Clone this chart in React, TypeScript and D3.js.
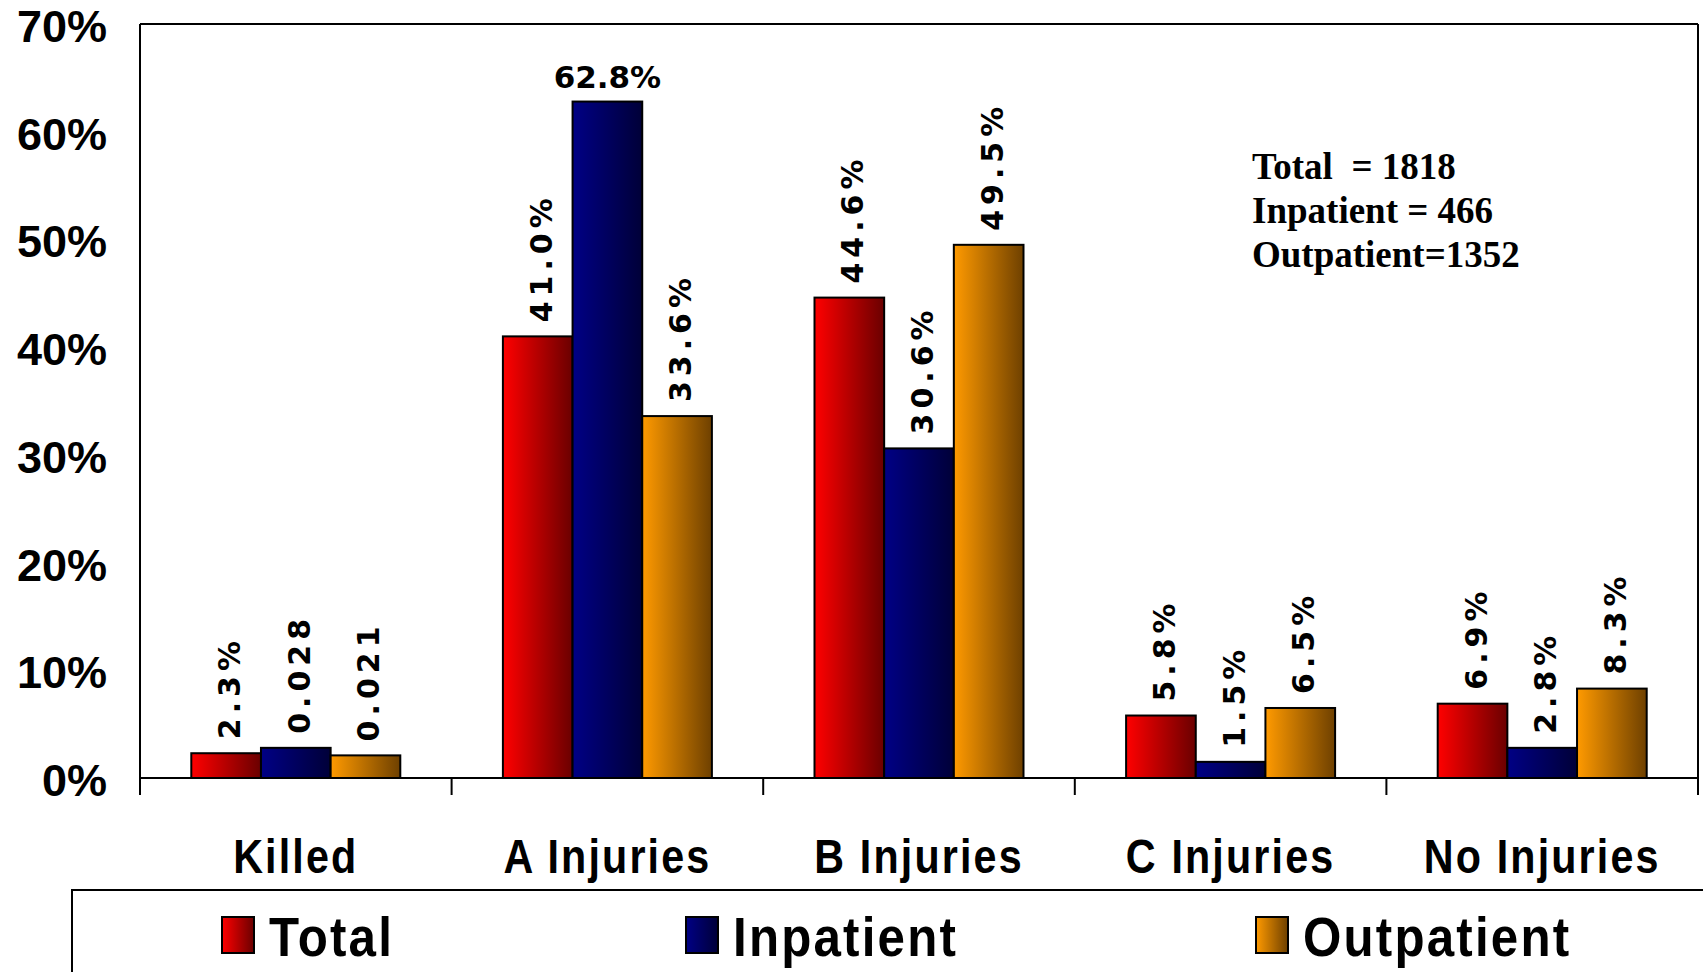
import React, { useEffect } from "react";
import * as d3 from "d3";

const categories = ["Killed", "A Injuries", "B Injuries", "C Injuries", "No Injuries"];
const seriesNames = ["Total", "Inpatient", "Outpatient"];
const totalValues = [2.3, 41.0, 44.6, 5.8, 6.9];
const inpatientValues = [2.8, 62.8, 30.6, 1.5, 2.8];
const outpatientValues = [2.1, 33.6, 49.5, 6.5, 8.3];
const totalLabels = ["2.3%", "41.0%", "44.6%", "5.8%", "6.9%"];
const inpatientLabels = ["0.028", "62.8%", "30.6%", "1.5%", "2.8%"];
const outpatientLabels = ["0.021", "33.6%", "49.5%", "6.5%", "8.3%"];
const yTicks = [0, 10, 20, 30, 40, 50, 60, 70];
const noteLines = ["Total  = 1818", "Inpatient = 466", "Outpatient=1352"];

const seriesValues = [totalValues, inpatientValues, outpatientValues];
const seriesLabels = [totalLabels, inpatientLabels, outpatientLabels];
const gradStops = [
  ["#ff0000", "#6a0000"],
  ["#000085", "#000038"],
  ["#ff9a00", "#6e4000"],
];

const W = 1703;
const H = 972;
const left = 140;
const right = 1698;
const top = 24;
const base = 778;

export default function App() {
  useEffect(() => {
    document.body.style.margin = "0";
    document.body.style.overflow = "hidden";
  }, []);

  const x0 = d3.scaleBand<string>().domain(categories).range([left, right]).paddingInner(0).paddingOuter(0);
  const bandInner = 209;
  const x1 = d3.scaleBand<string>().domain(seriesNames).range([0, bandInner]).padding(0);
  const y = d3.scaleLinear().domain([0, 70]).range([base, top]);
  const off = (x0.bandwidth() - bandInner) / 2;

  const labelFont = "'DejaVu Sans', Verdana, sans-serif";
  const catFont = "'Liberation Sans', Arial, sans-serif";

  return (
    <svg width={W} height={H} style={{ position: "absolute", left: 0, top: 0, display: "block", background: "#fff" }}>
      <defs>
        {gradStops.map((g, i) => (
          <linearGradient id={`g${i}`} key={i} x1="0" y1="0" x2="1" y2="0">
            <stop offset="0" stopColor={g[0]} />
            <stop offset="1" stopColor={g[1]} />
          </linearGradient>
        ))}
      </defs>

      {/* frame */}
      <line x1={left} x2={right} y1={top} y2={top} stroke="#000" strokeWidth={2} />
      <line x1={left} x2={left} y1={top} y2={base + 17} stroke="#000" strokeWidth={2} />
      <line x1={right} x2={right} y1={top} y2={base + 17} stroke="#000" strokeWidth={2} />

      {/* y tick labels */}
      {yTicks.map((t) => (
        <text
          key={t}
          x={107}
          y={y(t) + 18}
          textAnchor="end"
          fontFamily="'Liberation Sans', Arial, sans-serif"
          fontWeight="bold"
          fontSize={45}
          fill="#000"
        >
          {`${t}%`}
        </text>
      ))}

      {/* bars */}
      {categories.map((c, ci) =>
        seriesNames.map((s, si) => {
          const v = seriesValues[si][ci];
          const bx = (x0(c) as number) + off + (x1(s) as number);
          const bw = x1.bandwidth();
          const by = y(v);
          return (
            <rect
              key={`${c}-${s}`}
              x={bx}
              y={by}
              width={bw}
              height={base - by}
              fill={`url(#g${si})`}
              stroke="#000"
              strokeWidth={2}
            />
          );
        })
      )}

      {/* x axis & separators */}
      <line x1={left} x2={right} y1={base} y2={base} stroke="#000" strokeWidth={2} />
      {categories.map((c, ci) =>
        ci > 0 ? (
          <line
            key={`sep${c}`}
            x1={x0(c) as number}
            x2={x0(c) as number}
            y1={base}
            y2={base + 17}
            stroke="#000"
            strokeWidth={2}
          />
        ) : null
      )}

      {/* value labels */}
      {categories.map((c, ci) =>
        seriesNames.map((s, si) => {
          const v = seriesValues[si][ci];
          const lbl = seriesLabels[si][ci];
          const cx = (x0(c) as number) + off + (x1(s) as number) + x1.bandwidth() / 2;
          const by = y(v);
          const estLen = lbl.length * 25;
          if (by - 14 - estLen < top) {
            return (
              <text
                key={`l${c}${s}`}
                x={cx}
                y={by - 14}
                textAnchor="middle"
                fontFamily={labelFont}
                fontWeight="bold"
                fontSize={31}
                fill="#000"
              >
                {lbl}
              </text>
            );
          }
          return (
            <text
              key={`l${c}${s}`}
              transform={`translate(${cx + 14},${by - 14}) rotate(-90)`}
              textAnchor="start"
              fontFamily={labelFont}
              fontWeight="bold"
              fontSize={30}
              letterSpacing={5}
              fill="#000"
            >
              {lbl}
            </text>
          );
        })
      )}

      {/* category labels */}
      {categories.map((c) => (
        <text
          key={`c${c}`}
          transform={`translate(${(x0(c) as number) + x0.bandwidth() / 2},873) scale(0.86,1)`}
          textAnchor="middle"
          fontFamily={catFont}
          fontWeight="bold"
          fontSize={48}
          letterSpacing={2.5}
          fill="#000"
        >
          {c}
        </text>
      ))}

      {/* note */}
      {noteLines.map((t, i) => (
        <text
          key={`n${i}`}
          x={1252}
          y={179 + i * 44}
          fontFamily="'Liberation Serif', 'Times New Roman', serif"
          fontWeight="bold"
          fontSize={37}
          fill="#000"
          style={{ whiteSpace: "pre" }}
        >
          {t}
        </text>
      ))}

      {/* legend */}
      <rect x={72} y={890} width={1700} height={200} fill="none" stroke="#000" strokeWidth={2} />
      {seriesNames.map((s, si) => {
        const sx = [222, 686, 1256][si];
        return (
          <g key={`lg${s}`}>
            <rect x={sx} y={917} width={32} height={36} fill={`url(#g${si})`} stroke="#000" strokeWidth={2} />
            <text
              transform={`translate(${sx + 47},956) scale(0.88,1)`}
              fontFamily={catFont}
              fontWeight="bold"
              fontSize={56}
              letterSpacing={2.5}
              fill="#000"
            >
              {s}
            </text>
          </g>
        );
      })}
    </svg>
  );
}
